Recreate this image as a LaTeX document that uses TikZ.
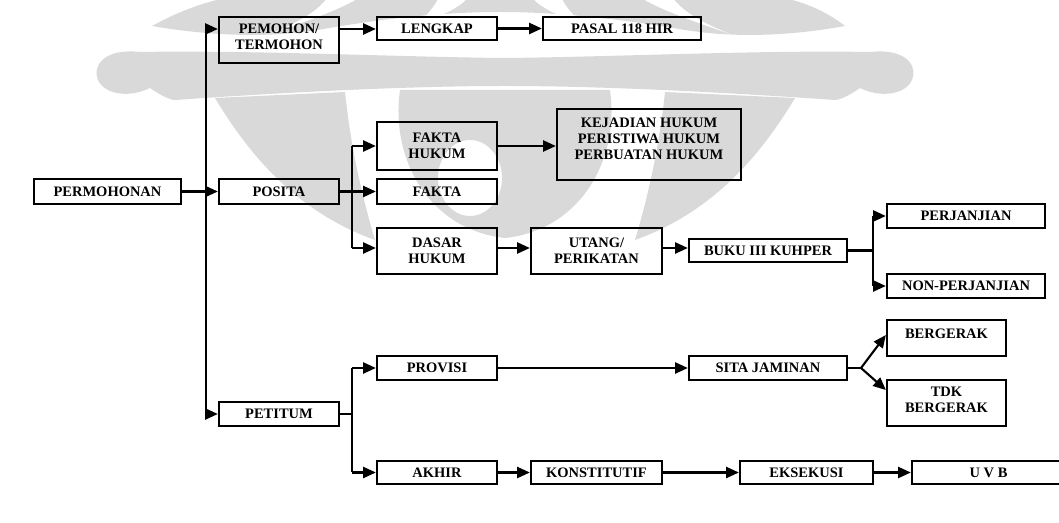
\documentclass[tikz,border=0pt]{standalone}
\usepackage{fontspec}
\setmainfont{Liberation Serif}
\usetikzlibrary{arrows.meta,calc}
\begin{document}
\begin{tikzpicture}[x=0.025cm,y=-0.025cm,
  box/.style={draw, line width=1.6pt, rectangle, inner sep=0pt, align=center,
    font=\bfseries\fontsize{10.3}{11.4}\selectfont},
  lbl/.style={inner sep=0pt, align=center, font=\bfseries\fontsize{10.3}{11.4}\selectfont},
  conn/.style={line width=1.5pt},
  arr/.style={conn, -{Triangle[length=9pt,width=7.8pt]}},
  wm/.style={fill=black!15, draw=none}]
\useasboundingbox (0,0) rectangle (1059,523);
% ---------- watermark ----------
\fill[wm] (152,26) .. controls (185,8) and (215,-2) .. (250,-6) -- (760,-6)
  .. controls (795,-2) and (822,8) .. (845,26)
  .. controls (790,36) and (735,38) .. (685,30)
  .. controls (615,18) and (555,12) .. (500,12)
  .. controls (445,12) and (385,18) .. (318,30)
  .. controls (268,38) and (210,36) .. (152,26) -- cycle;
\fill[white] (330,-6) .. controls (320,10) and (300,22) .. (270,34)
  .. controls (310,20) and (345,8) .. (365,-6) -- cycle;
\fill[white] (670,-6) .. controls (680,10) and (700,22) .. (730,34)
  .. controls (690,20) and (655,8) .. (635,-6) -- cycle;
\fill[white] (440,-6) .. controls (435,8) and (425,18) .. (410,28)
  .. controls (445,15) and (465,5) .. (470,-6) -- cycle;
\fill[white] (560,-6) .. controls (565,8) and (575,18) .. (590,28)
  .. controls (555,15) and (535,5) .. (530,-6) -- cycle;
\fill[wm] (140,52) .. controls (250,50) and (400,57) .. (505,58)
  .. controls (610,57) and (760,50) .. (870,52)
  .. controls (905,48) and (918,65) .. (912,80)
  .. controls (905,95) and (880,98) .. (860,88)
  .. controls (850,95) and (840,100) .. (835,100)
  .. controls (720,92) and (600,86) .. (505,86)
  .. controls (410,86) and (290,92) .. (175,100)
  .. controls (170,100) and (160,95) .. (150,88)
  .. controls (130,98) and (105,95) .. (98,80)
  .. controls (92,65) and (105,48) .. (140,52) -- cycle;
\fill[wm] (215,98) .. controls (255,165) and (305,215) .. (375,240)
  .. controls (360,190) and (350,140) .. (345,92) -- cycle;
\fill[wm] (795,98) .. controls (755,165) and (705,215) .. (635,240)
  .. controls (650,190) and (660,140) .. (665,92) -- cycle;
\fill[wm, even odd rule] (400,90) .. controls (390,160) and (430,230) .. (505,238)
  .. controls (580,230) and (620,160) .. (610,90) -- cycle
  (470,178) ellipse [x radius=0.8cm, y radius=0.95cm];
% ---------- boxes ----------
\node[box, minimum width=3.675cm, minimum height=0.625cm] (perm) at (107.5,191.5) {PERMOHONAN};
\node[box, minimum width=3cm, minimum height=1.15cm] (pem) at (279,40) {};
\node[lbl] (pemt) at (279,37) {PEMOHON/\\TERMOHON};
\node[box, minimum width=3cm, minimum height=0.575cm] (leng) at (437,28.5) {LENGKAP};
\node[box, minimum width=3.95cm, minimum height=0.575cm] (pasal) at (622,28.5) {PASAL 118 HIR};
\node[box, minimum width=3cm, minimum height=0.625cm] (posita) at (279,191.5) {POSITA};
\node[box, minimum width=3cm, minimum height=1.2cm] (fh) at (437,146) {FAKTA\\HUKUM};
\node[box, minimum width=3cm, minimum height=0.625cm] (fakta) at (437,191.5) {FAKTA};
\node[box, minimum width=3cm, minimum height=1.15cm] (dh) at (437,251) {DASAR\\HUKUM};
\node[box, minimum width=4.6cm, minimum height=1.775cm] (kej) at (649,144.5) {};
\node[lbl] (kejt) at (649,139) {KEJADIAN HUKUM\\PERISTIWA HUKUM\\PERBUATAN HUKUM};
\node[box, minimum width=3.275cm, minimum height=1.15cm] (utang) at (596.5,251) {UTANG/\\PERIKATAN};
\node[box, minimum width=3.95cm, minimum height=0.575cm] (buku) at (768,250.5) {BUKU III KUHPER};
\node[box, minimum width=3.95cm, minimum height=0.6cm] (perj) at (966,216) {PERJANJIAN};
\node[box, minimum width=3.95cm, minimum height=0.6cm] (nonp) at (966,286) {NON-PERJANJIAN};
\node[box, minimum width=3cm, minimum height=0.6cm] (pet) at (279,414) {PETITUM};
\node[box, minimum width=3cm, minimum height=0.6cm] (prov) at (437,368) {PROVISI};
\node[box, minimum width=3cm, minimum height=0.575cm] (akhir) at (437,472.5) {AKHIR};
\node[box, minimum width=3.95cm, minimum height=0.6cm] (sita) at (768,368) {SITA JAMINAN};
\node[box, minimum width=2.975cm, minimum height=0.9cm] (berg) at (946.5,338) {};
\node[lbl] (bergt) at (946.5,334) {BERGERAK};
\node[box, minimum width=2.975cm, minimum height=1.15cm] (tdk) at (946.5,403) {};
\node[lbl] (tdkt) at (946.5,400) {TDK\\BERGERAK};
\node[box, minimum width=3.275cm, minimum height=0.575cm] (kons) at (596.5,472.5) {KONSTITUTIF};
\node[box, minimum width=3.325cm, minimum height=0.575cm] (eks) at (806.5,472.5) {EKSEKUSI};
\node[box, minimum width=3.825cm, minimum height=0.575cm] (uvb) at (988.5,472.5) {U V B};
% ---------- junctions ----------
\coordinate (j1) at (206,191.5);
\coordinate (pemin) at ($(pem.west)+(0,-11)$);
\coordinate (j2) at (352,191.5);
\coordinate (dhin) at ($(dh.west)+(0,-3)$);
\coordinate (utin) at ($(utang.west)+(0,-3)$);
\coordinate (j3) at (873,250.5);
\coordinate (j4) at (352,414);
\coordinate (j5) at (861,368);
\coordinate (bergin) at ($(berg.west)+(0,-3)$);
\coordinate (tdkin) at ($(tdk.west)+(0,-13)$);
\coordinate (pemout) at ($(pemin)+(120,0)$);
% ---------- connectors ----------
\draw[conn] (perm.east) -- (j1);
\draw[conn] (j1 |- pemin) -- (j1 |- pet.west);
\draw[arr] (j1 |- pemin) -- (pemin);
\draw[arr] (j1) -- (posita.west);
\draw[arr] (j1 |- pet.west) -- (pet.west);
\draw[arr] (pemout) -- (leng.west |- pemout);
\draw[arr] (leng.east) -- (pasal.west);
\draw[conn] (posita.east) -- (j2);
\draw[conn] (j2 |- fh.west) -- (j2 |- dhin);
\draw[arr] (j2 |- fh.west) -- (fh.west);
\draw[arr] (j2) -- (fakta.west);
\draw[arr] (j2 |- dhin) -- (dhin);
\draw[arr] (fh.east) -- (kej.west |- fh.east);
\draw[arr] (dh.east |- dhin) -- (utin);
\draw[arr] (utang.east |- utin) -- (buku.west |- utin);
\draw[conn] (buku.east) -- (j3);
\draw[conn] (j3 |- perj.west) -- (j3 |- nonp.west);
\draw[arr] (j3 |- perj.west) -- (perj.west);
\draw[arr] (j3 |- nonp.west) -- (nonp.west);
\draw[conn] (pet.east) -- (j4);
\draw[conn] (j4 |- prov.west) -- (j4 |- akhir.west);
\draw[arr] (j4 |- prov.west) -- (prov.west);
\draw[arr] (j4 |- akhir.west) -- (akhir.west);
\draw[arr] (prov.east) -- (sita.west);
\draw[conn] (sita.east) -- (j5);
\draw[arr] (j5) -- (bergin);
\draw[arr] (j5) -- (tdkin);
\draw[arr] (akhir.east) -- (kons.west);
\draw[arr] (kons.east) -- (eks.west);
\draw[arr] (eks.east) -- (uvb.west);
\end{tikzpicture}
\end{document}
